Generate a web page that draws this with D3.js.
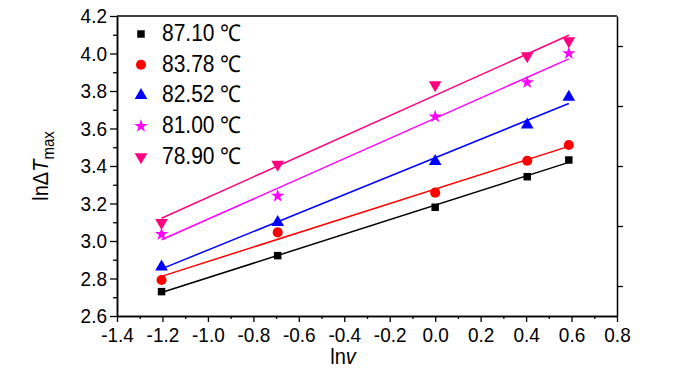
<!DOCTYPE html>
<html>
<head>
<meta charset="utf-8">
<script src="https://cdnjs.cloudflare.com/ajax/libs/d3/7.8.5/d3.min.js"></script>
<style>
  body { margin: 0; background: #fff; }
  text { font-family: "Liberation Sans", Arial, sans-serif; }
</style>
</head>
<body>
<div id="chart"></div>
<script>
// ln(v) for v = 0.3, 0.5, 1, 1.5, 1.8
var lnv = [-1.204, -0.693, 0, 0.405, 0.588];

var seriesNames = ["87.10 \u2103", "83.78 \u2103", "82.52 \u2103", "81.00 \u2103", "78.90 \u2103"];
var seriesColors = ["#000000", "#ff0000", "#0000ff", "#ff00ff", "#ff0080"];

// lnΔTmax
var t8710 = [2.730, 2.922, 3.180, 3.343, 3.432];
var t8378 = [2.792, 3.046, 3.258, 3.428, 3.512];
var t8252 = [2.862, 3.100, 3.425, 3.620, 3.768];
var t8100 = [3.036, 3.240, 3.663, 3.846, 4.001];
var t7890 = [3.098, 3.409, 3.832, 3.987, 4.067];
var seriesValues = [t8710, t8378, t8252, t8100, t7890];

var xTicks = [-1.4, -1.2, -1.0, -0.8, -0.6, -0.4, -0.2, 0.0, 0.2, 0.4, 0.6, 0.8];
var yTicks = [2.6, 2.8, 3.0, 3.2, 3.4, 3.6, 3.8, 4.0, 4.2];

var svgWidth = 700, svgHeight = 374;
var margin = { top: 16, right: 83, bottom: 58, left: 117 };
var chartWidth = svgWidth - margin.left - margin.right;
var chartHeight = svgHeight - margin.top - margin.bottom;

var svg = d3.select("#chart").append("svg")
  .attr("width", svgWidth)
  .attr("height", svgHeight);

var chart = svg.append("g")
  .attr("transform", "translate(" + margin.left + "," + margin.top + ")");

var x = d3.scaleLinear().domain([-1.4, 0.8]).range([0, chartWidth]);
var y = d3.scaleLinear().domain([2.6, 4.2]).range([chartHeight, 0]);

// plain hyphen for negatives, like the original
var fmt = function(d) { return d3.format(".1f")(d).replace("\u2212", "-"); };

// least squares fit line for each series
function fit(ys) {
  var mx = d3.mean(lnv), my = d3.mean(ys);
  var sxy = d3.sum(lnv, function(v, i) { return (v - mx) * (ys[i] - my); });
  var sxx = d3.sum(lnv, function(v) { return (v - mx) * (v - mx); });
  var b = sxy / sxx;
  return function(v) { return my + b * (v - mx); };
}

var symbols = [
  d3.symbol().type(d3.symbolSquare).size(56),
  d3.symbol().type(d3.symbolCircle).size(80),
  d3.symbol().type(d3.symbolTriangle).size(70),
  d3.symbol().type(d3.symbolStar).size(55),
  d3.symbol().type(d3.symbolTriangle).size(70)
];
var rot = [0, 0, 0, 0, 180];

seriesValues.forEach(function(ys, s) {
  var f = fit(ys);
  var x0 = d3.min(lnv), x1 = d3.max(lnv);
  chart.append("line")
    .attr("x1", x(x0)).attr("y1", y(f(x0)))
    .attr("x2", x(x1)).attr("y2", y(f(x1)))
    .attr("stroke", seriesColors[s])
    .attr("stroke-width", 1.5);

  chart.selectAll(".pt" + s)
    .data(ys)
    .enter()
    .append("path")
    .attr("class", "pt" + s)
    .attr("d", symbols[s]())
    .attr("transform", function(d, i) {
      return "translate(" + x(lnv[i]) + "," + y(d) + ") rotate(" + rot[s] + ")";
    })
    .attr("fill", seriesColors[s]);
});

// axes
var xMinor = d3.range(-1.3, 0.8, 0.2);
var yMinor = d3.range(2.7, 4.2, 0.2);

chart.append("g")
  .attr("transform", "translate(0," + chartHeight + ")")
  .call(d3.axisBottom(x).tickValues(xTicks).tickFormat(fmt).tickSizeInner(6).tickSizeOuter(0).tickPadding(4));
chart.append("g")
  .attr("transform", "translate(0," + chartHeight + ")")
  .call(d3.axisBottom(x).tickValues(xMinor).tickFormat("").tickSizeInner(3).tickSizeOuter(0));

chart.append("g")
  .call(d3.axisLeft(y).tickValues(yTicks).tickFormat(fmt).tickSizeInner(7).tickSizeOuter(0).tickPadding(3));
chart.append("g")
  .call(d3.axisLeft(y).tickValues(yMinor).tickFormat("").tickSizeInner(4).tickSizeOuter(0));

var yr = d3.scaleLinear().domain([0, 5]).range([chartHeight, 0]);
chart.append("g")
  .attr("transform", "translate(" + chartWidth + ",0)")
  .call(d3.axisRight(yr).tickValues([0.5, 1.5, 2.5, 3.5, 4.5]).tickFormat("").tickSizeInner(6).tickSizeOuter(0));

chart.append("line")
  .attr("x1", 0).attr("x2", chartWidth).attr("y1", 0).attr("y2", 0)
  .attr("stroke", "#000").attr("stroke-width", 1.5);

chart.selectAll(".domain").attr("stroke-width", 1.5);
chart.selectAll(".tick line").attr("stroke-width", 1.3);
chart.selectAll(".tick text")
  .style("font-size", "19px")
  .style("font-family", "'Liberation Sans', Arial, sans-serif")
  .attr("fill", "#000")
  .attr("transform", "scale(1,1.1)");

// legend
var legend = chart.append("g").attr("transform", "translate(24,18)");
seriesNames.forEach(function(name, s) {
  var g = legend.append("g").attr("transform", "translate(0," + (s * 30.7) + ")");
  g.append("path")
    .attr("d", symbols[s]())
    .attr("transform", "rotate(" + rot[s] + ")")
    .attr("fill", seriesColors[s]);
  g.append("text")
    .attr("transform", "translate(21,7) scale(1,1.1)")
    .style("font-size", "21px")
    .text(name);
});

// axis titles
var xt = svg.append("text")
  .attr("transform", "translate(" + (margin.left + x(-0.4) - 14) + ",364) scale(1,1.1)")
  .style("font-size", "20px");
xt.append("tspan").text("ln");
xt.append("tspan").style("font-style", "italic").text("v");

var yt = svg.append("text")
  .attr("transform", "translate(48," + (margin.top + chartHeight / 2) + ") rotate(-90) scale(1,1.1)")
  .attr("text-anchor", "middle")
  .style("font-size", "20px");
yt.append("tspan").text("ln\u0394");
yt.append("tspan").style("font-style", "italic").text("T");
yt.append("tspan").attr("dy", 5).style("font-size", "15px").text("max");
</script>
</body>
</html>
